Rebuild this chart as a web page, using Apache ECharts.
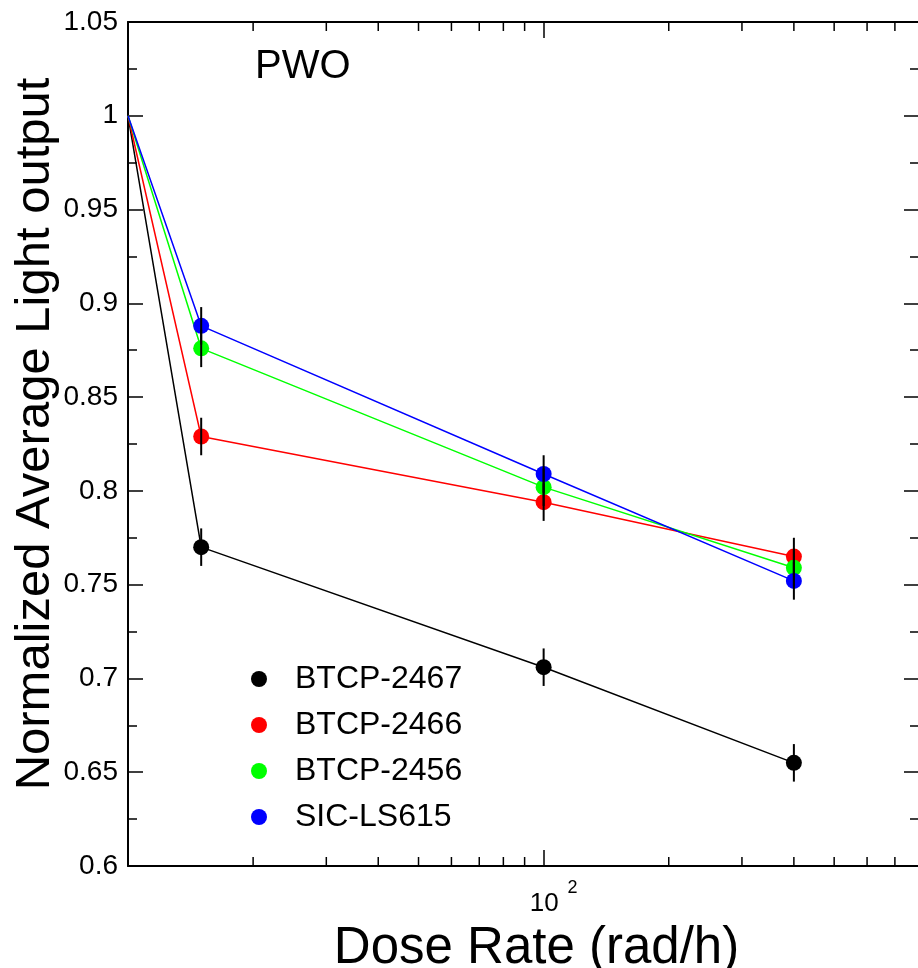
<!DOCTYPE html>
<html><head><meta charset="utf-8">
<script src="https://cdn.jsdelivr.net/npm/echarts@6/dist/echarts.min.js"></script>
<style>html,body{margin:0;padding:0;background:#fff}#c{width:918px;height:968px}</style>
</head><body><div id="c"></div>
<script>
// ---- data ----
const doseRates = [10, 15, 100, 400];
const seriesNames = ['BTCP-2467', 'BTCP-2466', 'BTCP-2456', 'SIC-LS615'];
const btcp2467 = [1, 0.770, 0.706, 0.655];
const btcp2466 = [1, 0.829, 0.794, 0.765];
const btcp2456 = [1, 0.876, 0.802, 0.759];
const sicLs615 = [1, 0.888, 0.809, 0.752];
const errorBars = [0, 0.01, 0.01, 0.01];
const xMinorTickValues = [20, 30, 40, 50, 60, 70, 80, 90, 200, 300, 400, 500, 600, 700];
const xLabelValue = 100;
const yMin = 0.6, yMax = 1.05, yStep = 0.05;
const xMin = 10, xMax = 800;

// ---- style ----
const seriesColors = ['#000000', '#ff0000', '#00ff00', '#0000ff'];
const FONT = '"Liberation Sans", Arial, Helvetica, sans-serif';
const valuesList = [btcp2467, btcp2466, btcp2456, sicLs615];

const chart = echarts.init(document.getElementById('c'), null, {renderer: 'canvas'});

const lineSeries = seriesNames.map((name, i) => ({
  name, type: 'line', xAxisIndex: 0, yAxisIndex: 0,
  data: doseRates.map((x, j) => ({value: [x, valuesList[i][j]], symbol: j === 0 ? 'none' : 'circle'})),
  symbol: 'circle', symbolSize: 16, showSymbol: true,
  color: seriesColors[i],
  itemStyle: {color: seriesColors[i]},
  lineStyle: {width: 1.5, color: seriesColors[i]},
  z: 2 + i, animation: false, silent: true
}));

const errorData = [];
valuesList.forEach(vals => {
  doseRates.forEach((x, j) => { if (errorBars[j] > 0) errorData.push([x, vals[j], errorBars[j]]); });
});

const errorSeries = {
  type: 'custom', xAxisIndex: 0, yAxisIndex: 0, z: 20, silent: true, animation: false,
  renderItem: (params, api) => {
    const x = api.value(0), y = api.value(1), e = api.value(2);
    const p1 = api.coord([x, y - e]), p2 = api.coord([x, y + e]);
    return {type: 'line', shape: {x1: p1[0], y1: p1[1], x2: p2[0], y2: p2[1]}, style: {stroke: '#000', lineWidth: 2}};
  },
  data: errorData
};

const minorTickSeries = {
  type: 'custom', xAxisIndex: 0, yAxisIndex: 0, z: 30, silent: true, animation: false, clip: false,
  renderItem: (params, api) => {
    const v = api.value(0);
    const b = api.coord([v, yMin]), t = api.coord([v, yMax]);
    return {type: 'group', children: [
      {type: 'line', shape: {x1: b[0], y1: b[1], x2: b[0], y2: b[1] - 9}, style: {stroke: '#000', lineWidth: 1.5}},
      {type: 'line', shape: {x1: t[0], y1: t[1], x2: t[0], y2: t[1] + 9}, style: {stroke: '#000', lineWidth: 1.5}}
    ]};
  },
  data: xMinorTickValues.map(v => [v, yMin])
};

const axisCommon = {
  axisLine: {show: true, onZero: false, lineStyle: {color: '#000', width: 2}},
  splitLine: {show: false}
};

const option = {
  animation: false,
  backgroundColor: '#fff',
  textStyle: {fontFamily: FONT},
  grid: {left: 128, right: -1, top: 22, bottom: 102, containLabel: false, outerBoundsMode: 'none'},
  xAxis: [
    Object.assign({}, axisCommon, {
      type: 'log', logBase: 10, min: xMin, max: xMax, position: 'bottom',
      axisTick: {show: true, inside: true, length: 16, lineStyle: {color: '#000', width: 1.5}},
      axisLabel: {
        show: true, margin: 13, color: '#000', fontFamily: FONT,
        formatter: v => Math.abs(v - xLabelValue) < 1e-6 ? '{b|10}{s|2}' : '',
        rich: {
          b: {fontSize: 26, lineHeight: 38, verticalAlign: 'bottom', fontFamily: FONT, color: '#000', padding: [0, 0, 0, 20]},
          s: {fontSize: 18, lineHeight: 38, verticalAlign: 'top', fontFamily: FONT, color: '#000', padding: [0, 0, 0, 9]}
        }
      },
      name: 'Dose Rate (rad/h)', nameLocation: 'middle', nameGap: 57, nameMoveOverlap: false,
      nameTextStyle: {fontSize: 51, color: '#000', fontFamily: FONT, padding: [0, 0, 0, 26]}
    }),
    Object.assign({}, axisCommon, {
      type: 'log', logBase: 10, min: xMin, max: xMax, position: 'top',
      axisTick: {show: true, inside: true, length: 16, lineStyle: {color: '#000', width: 1.5}},
      axisLabel: {show: false}
    })
  ],
  yAxis: [
    Object.assign({}, axisCommon, {
      type: 'value', min: yMin, max: yMax, interval: yStep, position: 'left',
      axisTick: {show: true, inside: true, length: 15, lineStyle: {color: '#000', width: 1.5}},
      minorTick: {show: true, splitNumber: 2, length: 9, lineStyle: {color: '#000', width: 1.5}},
      axisLabel: {show: true, margin: 10, fontSize: 28, color: '#000', fontFamily: FONT},
      name: 'Normalized Average Light output', nameLocation: 'middle', nameGap: 68, nameRotate: 90, nameMoveOverlap: false,
      nameTextStyle: {fontSize: 49, color: '#000', fontFamily: FONT, padding: [0, 0, 0, 20]}
    }),
    Object.assign({}, axisCommon, {
      type: 'value', min: yMin, max: yMax, interval: yStep, position: 'right',
      axisTick: {show: true, inside: true, length: 15, lineStyle: {color: '#000', width: 1.5}},
      minorTick: {show: true, splitNumber: 2, length: 9, lineStyle: {color: '#000', width: 1.5}},
      axisLabel: {show: false}
    })
  ],
  legend: {
    data: seriesNames, orient: 'vertical', left: 246, top: 658,
    icon: 'circle', itemWidth: 16, itemHeight: 16, itemGap: 14,
    selectedMode: false,
    textStyle: {fontSize: 32, lineHeight: 32, color: '#000', fontFamily: FONT, padding: [0, 0, 0, 23]}
  },
  graphic: [
    {type: 'text', left: 255, top: 47, style: {text: 'PWO', fontSize: 40, fill: '#000', fontFamily: FONT}}
  ],
  series: [...lineSeries, errorSeries, minorTickSeries]
};
chart.setOption(option);
</script>
</body></html>
